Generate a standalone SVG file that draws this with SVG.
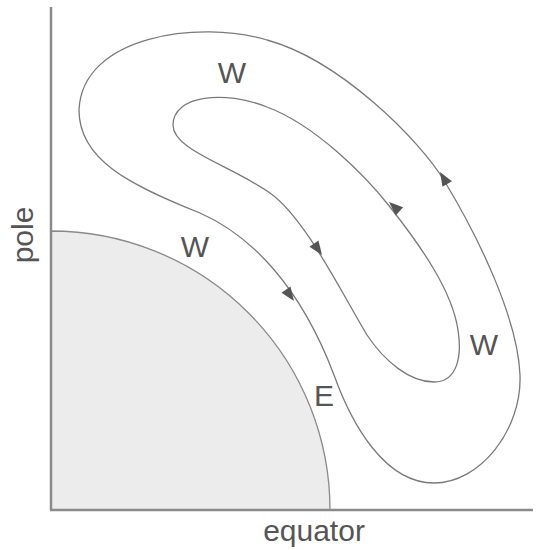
<svg xmlns="http://www.w3.org/2000/svg" width="537" height="550" viewBox="0 0 537 550">
<style>
.axis{stroke:#8a8a8a;stroke-width:2.5;fill:none}
.flow{stroke:#7a7a7a;stroke-width:1.3;fill:none}
.lbl{font-family:"Liberation Sans",Arial,sans-serif;font-size:30px;fill:#555}
.arr{fill:#555}
</style>
<defs>
<path id="ah" d="M0,0 L-14,-5.5 L-14,5.5 Z"/>
</defs>
<rect width="537" height="550" fill="#fff"/>
<g id="planet">
<path d="M51,231 A279,279 0 0 1 330,510 L51,510 Z" fill="#ececec" stroke="#8a8a8a" stroke-width="1.3"/>
</g>
<g id="axes">
<line class="axis" x1="51" y1="7" x2="51" y2="510"/>
<line class="axis" x1="50" y1="510" x2="533" y2="510"/>
<text class="lbl" x="314" y="541" text-anchor="middle">equator</text>
<text class="lbl" transform="translate(33,235) rotate(-90)" text-anchor="middle">pole</text>
</g>
<g id="connectors">
<path id="outer" class="flow" d="M434,483 C480,483 522,430 520,375 C518,320 480,240 445,182 C420,140 340,60 267,40 C200,20 82,35 79,110 C79,160 130,185 200,213 C250,235 300,285 334,375 C352,425 385,483 434,483 Z"/>
<path id="inner" class="flow" d="M434,382 C458,382 462,355 458,330 C452,290 420,245 390,207 C365,175 315,125 267,107 C225,90 173,95 173,125 C173,150 230,165 270,193 C305,218 340,290 367,335 C385,362 410,382 434,382 Z"/>
<use href="#ah" class="arr" transform="translate(440,172) rotate(-121)"/>
<use href="#ah" class="arr" transform="translate(294,301) rotate(55)"/>
<use href="#ah" class="arr" transform="translate(389,202) rotate(-138)"/>
<use href="#ah" class="arr" transform="translate(322,255) rotate(55)"/>
</g>
<g id="labels">
<text class="lbl" x="232" y="83" text-anchor="middle">W</text>
<text class="lbl" x="195" y="257" text-anchor="middle">W</text>
<text class="lbl" x="484" y="355" text-anchor="middle">W</text>
<text class="lbl" x="324" y="406" text-anchor="middle">E</text>
</g>
</svg>
